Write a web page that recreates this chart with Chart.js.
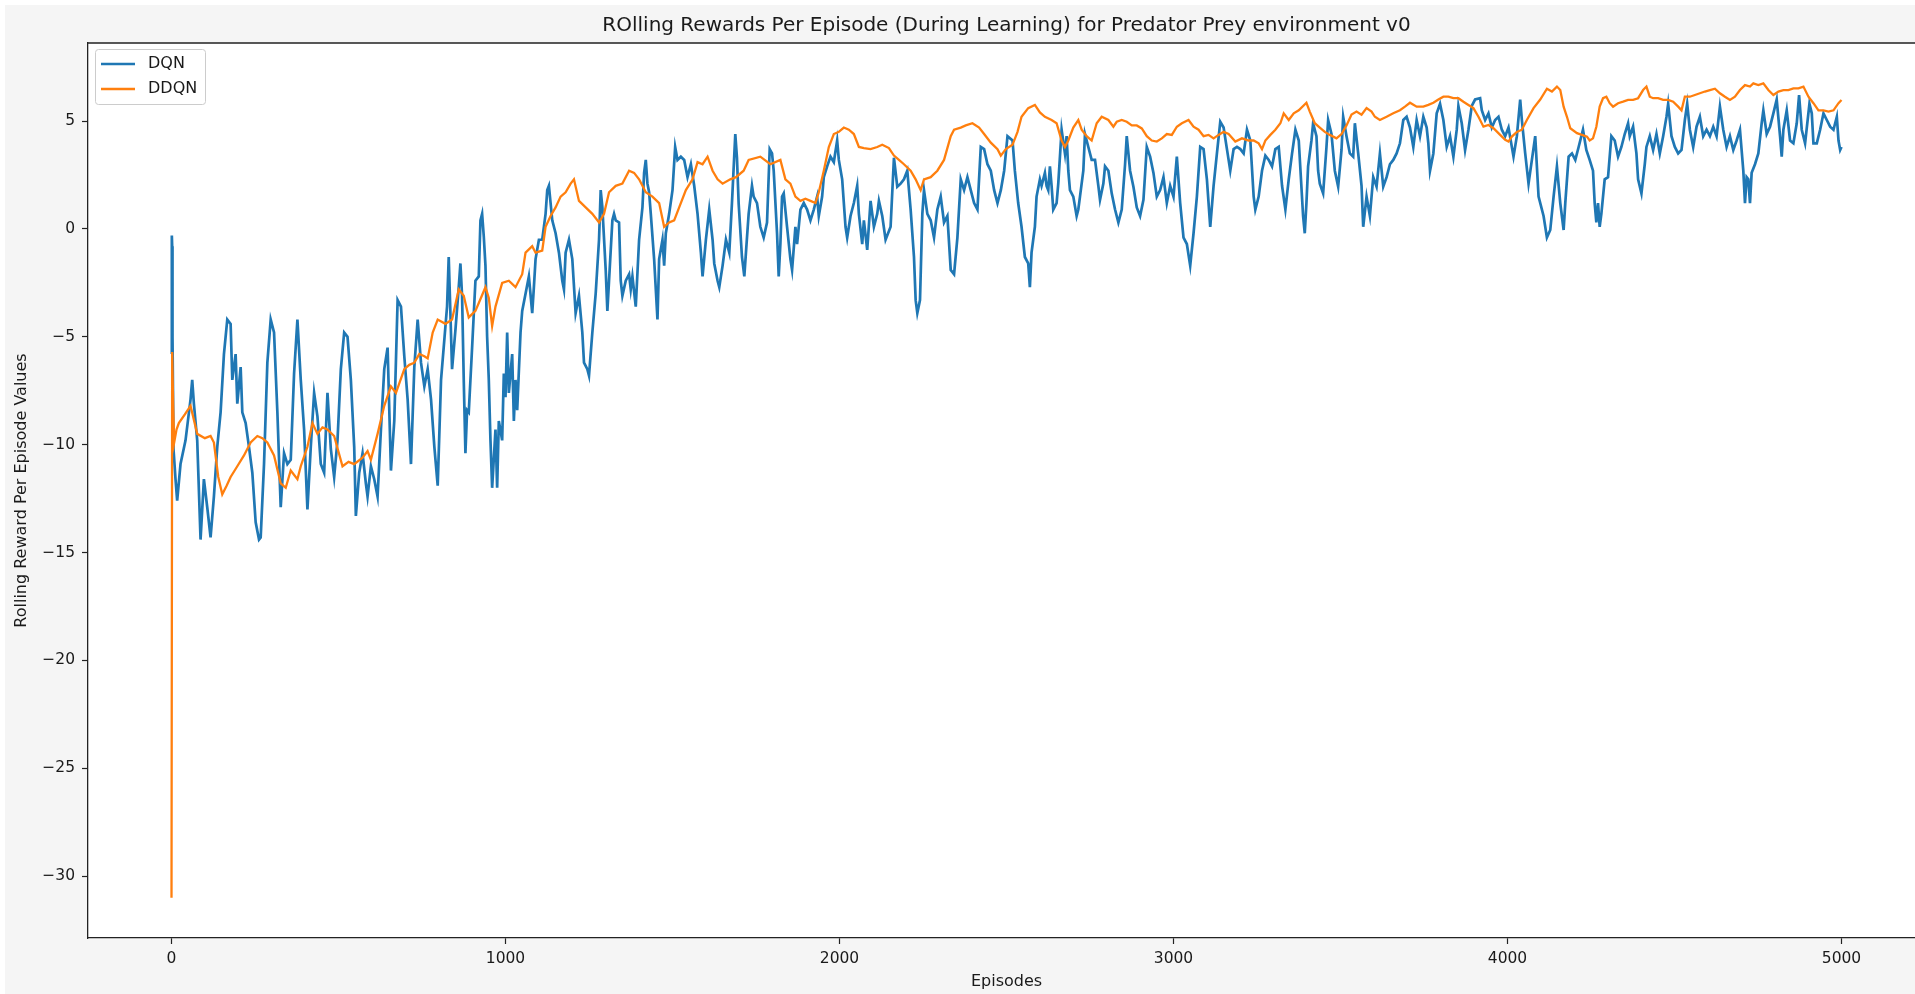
<!DOCTYPE html>
<html>
<head>
<meta charset="utf-8">
<title>Rolling Rewards Per Episode</title>
<script src="https://cdn.jsdelivr.net/npm/chart.js@4.4.1/dist/chart.umd.min.js"></script>
<style>
  html, body { margin: 0; padding: 0; overflow: hidden; background: #ffffff; }
  #wrap { position: absolute; left: 0; top: 0; width: 1940px; height: 994px; }
</style>
</head>
<body>
<div id="wrap"><canvas id="chart" width="1940" height="994"></canvas></div>
<script>
// Rolling reward per episode, DQN agent
const dqnEpisodes = [
  0, 1, 2, 3, 6, 12, 17, 27, 42, 57, 62, 67, 77, 87, 97, 107, 117, 127, 137, 147,
  157, 167, 177, 182, 192, 197, 207, 212, 222, 232, 242, 252, 262, 267, 277, 287, 297, 307, 317, 327,
  337, 347, 357, 367, 377, 387, 397, 407, 417, 427, 437, 447, 457, 467, 477, 487, 497, 507, 517, 527,
  537, 547, 552, 562, 572, 582, 587, 597, 607, 617, 627, 637, 647, 657, 667, 677, 687, 697, 707, 717,
  727, 737, 747, 757, 767, 777, 787, 797, 807, 825, 830, 835, 840, 850, 860, 865, 870, 875, 880, 885,
  890, 895, 900, 910, 920, 925, 930, 935, 940, 945, 950, 955, 960, 970, 975, 980, 990, 995, 1000, 1005,
  1010, 1020, 1025, 1030, 1035, 1045, 1050, 1060, 1070, 1080, 1085, 1090, 1100, 1110, 1120, 1125, 1130, 1140, 1150, 1160,
  1170, 1175, 1180, 1190, 1200, 1210, 1220, 1230, 1235, 1245, 1250, 1260, 1270, 1280, 1285, 1290, 1300, 1305, 1310, 1320,
  1325, 1330, 1340, 1345, 1350, 1360, 1370, 1375, 1380, 1390, 1400, 1410, 1415, 1420, 1425, 1430, 1435, 1445, 1455, 1460,
  1470, 1475, 1480, 1490, 1500, 1508, 1515, 1525, 1535, 1545, 1555, 1565, 1575, 1585, 1590, 1600, 1610, 1620, 1625, 1635,
  1640, 1650, 1660, 1670, 1678, 1688, 1693, 1698, 1708, 1715, 1723, 1728, 1738, 1743, 1753, 1763, 1773, 1783, 1791, 1798,
  1803, 1813, 1818, 1823, 1828, 1833, 1843, 1853, 1858, 1868, 1873, 1883, 1893, 1903, 1913, 1923, 1933, 1938, 1948, 1953,
  1963, 1973, 1983, 1993, 1998, 2008, 2018, 2023, 2033, 2043, 2053, 2058, 2068, 2073, 2083, 2093, 2103, 2113, 2118, 2128,
  2138, 2153, 2163, 2173, 2183, 2193, 2203, 2213, 2223, 2228, 2233, 2241, 2248, 2253, 2263, 2273, 2283, 2293, 2303, 2313,
  2323, 2333, 2343, 2353, 2363, 2373, 2383, 2393, 2403, 2413, 2423, 2433, 2443, 2453, 2463, 2473, 2483, 2493, 2503, 2518,
  2525, 2535, 2545, 2555, 2565, 2570, 2575, 2585, 2590, 2600, 2605, 2615, 2620, 2625, 2630, 2635, 2640, 2650, 2655, 2665,
  2675, 2680, 2685, 2690, 2700, 2710, 2715, 2720, 2730, 2735, 2745, 2755, 2765, 2775, 2780, 2790, 2795, 2805, 2815, 2825,
  2835, 2845, 2855, 2860, 2870, 2880, 2890, 2900, 2910, 2920, 2930, 2940, 2950, 2960, 2970, 2980, 2990, 3000, 3010, 3020,
  3030, 3040, 3050, 3060, 3070, 3080, 3090, 3100, 3110, 3120, 3130, 3140, 3150, 3160, 3170, 3180, 3190, 3200, 3210, 3220,
  3230, 3240, 3245, 3255, 3265, 3275, 3285, 3295, 3305, 3315, 3325, 3335, 3345, 3355, 3365, 3375, 3388, 3393, 3398, 3403,
  3413, 3418, 3428, 3433, 3438, 3448, 3458, 3463, 3473, 3483, 3493, 3503, 3508, 3518, 3528, 3538, 3543, 3553, 3563, 3568,
  3578, 3588, 3598, 3608, 3618, 3628, 3638, 3648, 3658, 3668, 3678, 3688, 3698, 3708, 3718, 3728, 3738, 3748, 3758, 3763,
  3768, 3778, 3788, 3798, 3808, 3818, 3828, 3838, 3848, 3853, 3863, 3873, 3883, 3893, 3903, 3918, 3923, 3933, 3943, 3953,
  3963, 3973, 3983, 3993, 4003, 4018, 4028, 4038, 4043, 4053, 4063, 4073, 4083, 4093, 4108, 4118, 4128, 4138, 4148, 4158,
  4168, 4173, 4183, 4193, 4203, 4213, 4226, 4236, 4246, 4256, 4261, 4266, 4271, 4276, 4281, 4291, 4301, 4311, 4321, 4331,
  4341, 4351, 4361, 4366, 4376, 4386, 4391, 4401, 4411, 4416, 4426, 4436, 4446, 4456, 4466, 4476, 4481, 4491, 4501, 4511,
  4521, 4531, 4538, 4546, 4556, 4566, 4576, 4586, 4596, 4606, 4616, 4626, 4636, 4646, 4656, 4666, 4676, 4686, 4696, 4706,
  4711, 4716, 4721, 4726, 4731, 4741, 4751, 4761, 4766, 4776, 4786, 4796, 4806, 4816, 4821, 4826, 4836, 4846, 4856, 4866,
  4873, 4881, 4891, 4904, 4911, 4916, 4926, 4936, 4946, 4956, 4966, 4976, 4986, 4991, 4996, 5000
];
const dqnRewards = [
  -5.8, -0.3, -0.8, -5.0, -10.2, -11.6, -12.6, -10.9, -9.8, -7.9, -7.0, -8.1, -9.8, -14.4, -11.6, -12.9, -14.3, -12.4, -10.1, -8.5,
  -5.8, -4.2, -4.4, -7.0, -5.8, -8.1, -6.4, -8.5, -9.0, -10.1, -11.3, -13.6, -14.4, -14.3, -10.9, -6.2, -4.2, -4.8, -8.5, -12.9,
  -10.4, -10.9, -10.7, -6.7, -4.2, -7.0, -9.3, -13.0, -10.1, -7.6, -8.7, -10.9, -11.3, -7.6, -10.2, -11.5, -9.8, -6.5, -4.8, -5.0,
  -7.0, -10.1, -13.3, -11.3, -10.4, -11.8, -12.4, -11.0, -11.6, -12.4, -9.3, -6.5, -5.5, -11.2, -8.9, -3.3, -3.6, -5.9, -7.9, -10.9,
  -6.4, -4.2, -6.2, -7.3, -6.5, -7.9, -10.1, -11.9, -7.0, -3.6, -1.3, -3.9, -6.5, -4.7, -2.7, -1.6, -3.1, -7.0, -10.4, -8.4,
  -8.5, -7.0, -5.5, -2.4, -2.2, 0.4, 0.7, -0.35, -1.7, -5.0, -7.0, -9.8, -12.0, -9.3, -12.0, -8.9, -9.8, -6.7, -7.8, -4.8,
  -7.6, -5.8, -8.9, -7.0, -8.4, -4.8, -3.8, -3.0, -2.2, -3.9, -2.7, -1.4, -0.5, -0.5, 0.7, 1.8, 2.0, 0.4, -0.2, -1.1,
  -2.4, -2.8, -1.1, -0.5, -1.4, -3.9, -3.1, -4.8, -6.2, -6.5, -6.8, -4.8, -3.0, -0.5, 1.8, 1.0, -1.9, -3.8, -2.4, 0.4,
  0.7, 0.4, 0.3, -2.4, -3.1, -2.4, -2.1, -2.8, -2.2, -3.6, -0.5, 1.0, 2.6, 3.2, 2.1, 1.7, 0.7, -1.4, -4.2, -1.4,
  -0.5, -1.7, -0.2, 0.7, 1.8, 3.8, 3.2, 3.35, 3.2, 2.4, 3.0, 2.0, 0.7, -1.1, -2.2, -0.5, 0.9, -0.5, -1.6, -2.4,
  -2.7, -1.7, -0.5, -1.1, 1.2, 4.4, 3.3, 1.2, -1.3, -2.2, -0.4, 0.7, 2.0, 1.5, 1.2, 0.1, -0.4, 0.3, 3.7, 3.5,
  2.7, -0.2, -2.2, -0.7, 1.5, 1.65, 0.1, -1.4, -1.9, 0.1, -0.7, 0.9, 1.2, 0.9, 0.4, 0.9, 1.5, 0.6, 1.5, 2.4,
  2.9, 3.35, 3.1, 4.1, 3.2, 2.3, 0.1, -0.4, 0.6, 1.2, 2.0, 0.7, -0.7, 0.4, -0.97, 1.3, 0.1, 0.7, 1.3, 0.6,
  -0.5, 0.1, 3.3, 1.96, 2.1, 2.3, 2.7, 0.9, -1.3, -3.3, -3.9, -3.3, 0.7, 1.8, 0.7, 0.4, -0.4, 0.9, 1.5, 0.3,
  0.6, -1.9, -2.1, -0.4, 2.3, 1.8, 2.4, 1.8, 1.2, 0.9, 3.8, 3.7, 3.0, 2.7, 1.8, 1.2, 1.8, 2.7, 4.3, 4.1,
  2.7, 1.2, 0.1, -1.3, -1.6, -2.7, -1.1, 0.1, 1.5, 2.3, 2.0, 2.6, 2.0, 1.8, 2.9, 2.0, 0.9, 1.2, 2.1, 4.6,
  3.5, 4.3, 2.7, 1.8, 1.5, 0.6, 0.9, 1.5, 2.7, 4.4, 3.8, 3.2, 3.2, 2.0, 1.35, 2.1, 2.9, 2.7, 1.65, 0.9,
  0.3, 0.9, 3.0, 4.3, 2.7, 1.96, 1.0, 0.6, 1.35, 3.8, 3.35, 2.6, 1.5, 1.8, 2.4, 1.2, 2.0, 1.5, 3.35, 1.2,
  -0.4, -0.7, -1.7, -0.2, 1.5, 3.8, 3.7, 2.3, 0.1, 2.0, 3.5, 4.97, 4.7, 3.7, 2.7, 3.7, 3.8, 3.7, 3.5, 4.6,
  4.1, 1.5, 0.9, 1.5, 2.7, 3.4, 3.2, 2.9, 3.7, 3.8, 2.0, 0.9, 2.3, 3.5, 4.6, 4.1, 0.6, -0.2, 1.2, 2.9,
  4.1, 4.9, 4.3, 2.7, 2.1, 1.65, 3.8, 5.05, 4.4, 2.7, 1.96, 3.66, 5.2, 4.3, 3.5, 3.35, 4.9, 3.5, 2.0, 0.1,
  1.5, 0.6, 2.4, 1.96, 3.5, 1.96, 2.4, 3.0, 3.2, 3.5, 3.97, 5.05, 5.2, 4.7, 3.8, 5.05, 4.3, 5.2, 4.7, 3.97,
  2.7, 3.5, 5.36, 5.8, 5.05, 3.8, 4.3, 3.35, 4.6, 5.7, 4.9, 3.66, 4.6, 5.7, 6.0, 6.06, 5.5, 5.05, 5.36, 4.7,
  5.05, 5.2, 4.6, 4.3, 4.7, 3.35, 4.3, 6.0, 5.05, 3.5, 2.1, 3.2, 4.3, 1.5, 0.6, -0.4, -0.05, 1.5, 2.9, 1.2,
  -0.05, 1.2, 3.35, 3.5, 3.2, 3.8, 4.6, 3.66, 3.2, 2.7, 1.2, 0.3, 1.2, 0.1, 0.7, 2.3, 2.4, 4.3, 4.1, 3.35,
  3.8, 4.4, 4.9, 4.3, 4.74, 3.5, 2.3, 1.65, 3.0, 3.8, 4.3, 3.66, 4.4, 3.5, 4.3, 5.2, 5.8, 4.3, 3.8, 3.5,
  3.66, 5.05, 5.8, 4.6, 3.8, 4.74, 5.2, 4.3, 4.6, 4.3, 4.74, 4.3, 5.67, 4.6, 3.8, 4.3, 3.66, 4.1, 4.6, 2.7,
  1.2, 2.4, 2.3, 1.2, 2.6, 3.0, 3.5, 4.9, 5.5, 4.4, 4.74, 5.36, 6.0, 4.3, 3.35, 4.6, 5.5, 4.1, 3.97, 4.9,
  6.2, 4.6, 3.97, 5.8, 5.36, 3.97, 3.97, 4.6, 5.36, 5.05, 4.74, 4.6, 5.2, 4.1, 3.66, 3.8
];

// Rolling reward per episode, DDQN agent
const ddqnEpisodes = [
  0, 2, 5, 8, 15, 22, 40, 57, 77, 100, 117, 127, 140, 152, 165, 177, 197, 217, 237, 257,
  272, 287, 307, 327, 342, 357, 377, 387, 407, 422, 437, 452, 467, 487, 512, 530, 547, 572, 587, 597,
  617, 637, 657, 672, 697, 712, 727, 742, 757, 767, 782, 797, 820, 840, 860, 875, 890, 910, 940, 950,
  960, 970, 990, 1010, 1030, 1050, 1060, 1080, 1090, 1110, 1120, 1135, 1150, 1165, 1180, 1195, 1205, 1220, 1240, 1260,
  1280, 1295, 1310, 1330, 1350, 1370, 1385, 1400, 1420, 1440, 1460, 1475, 1490, 1505, 1520, 1540, 1560, 1575, 1590, 1605,
  1620, 1635, 1650, 1673, 1690, 1713, 1728, 1763, 1793, 1823, 1838, 1853, 1868, 1883, 1898, 1913, 1928, 1938, 1953, 1968,
  1983, 1998, 2013, 2028, 2043, 2058, 2073, 2093, 2113, 2128, 2148, 2163, 2178, 2193, 2213, 2228, 2243, 2253, 2273, 2293,
  2313, 2333, 2343, 2363, 2378, 2398, 2418, 2433, 2453, 2473, 2483, 2498, 2518, 2533, 2545, 2565, 2585, 2600, 2615, 2635,
  2650, 2665, 2675, 2685, 2700, 2715, 2725, 2740, 2755, 2770, 2785, 2805, 2820, 2830, 2845, 2860, 2875, 2890, 2905, 2920,
  2935, 2950, 2965, 2980, 2995, 3010, 3025, 3045, 3060, 3075, 3090, 3105, 3120, 3135, 3150, 3165, 3185, 3205, 3225, 3240,
  3255, 3265, 3275, 3290, 3305, 3320, 3330, 3345, 3360, 3375, 3398, 3408, 3423, 3438, 3453, 3468, 3488, 3503, 3518, 3533,
  3548, 3563, 3578, 3593, 3603, 3618, 3638, 3658, 3678, 3693, 3708, 3728, 3748, 3763, 3778, 3793, 3808, 3823, 3838, 3853,
  3868, 3883, 3898, 3913, 3928, 3943, 3958, 3978, 3993, 4003, 4013, 4028, 4043, 4058, 4078, 4098, 4118, 4133, 4148, 4158,
  4168, 4178, 4188, 4208, 4223, 4238, 4246, 4256, 4266, 4276, 4286, 4296, 4306, 4316, 4331, 4346, 4361, 4376, 4391, 4406,
  4416, 4426, 4436, 4451, 4466, 4481, 4496, 4511, 4521, 4531, 4546, 4561, 4576, 4591, 4606, 4621, 4636, 4651, 4666, 4681,
  4696, 4711, 4726, 4736, 4751, 4766, 4781, 4796, 4811, 4826, 4841, 4856, 4871, 4886, 4901, 4916, 4931, 4946, 4961, 4976,
  4991, 5000
];
const ddqnRewards = [
  -31.0, -5.7, -8.2, -9.9, -9.3, -9.0, -8.6, -8.2, -9.5, -9.7, -9.6, -9.9, -11.5, -12.3, -11.9, -11.5, -11.0, -10.5, -9.9, -9.6,
  -9.7, -9.9, -10.5, -11.8, -12.0, -11.2, -11.6, -11.0, -10.1, -9.0, -9.5, -9.2, -9.3, -9.6, -11.0, -10.8, -10.9, -10.6, -10.3, -10.7,
  -9.5, -8.2, -7.3, -7.6, -6.5, -6.3, -6.2, -5.8, -5.9, -6.0, -4.8, -4.2, -4.4, -4.2, -2.8, -3.1, -4.1, -3.8, -2.7, -3.2,
  -4.5, -3.6, -2.5, -2.4, -2.7, -2.1, -1.1, -0.8, -1.1, -1.0, 0.1, 0.6, 1.0, 1.5, 1.7, 2.1, 2.3, 1.3, 1.0, 0.7,
  0.3, 0.7, 1.7, 2.0, 2.1, 2.7, 2.6, 2.3, 1.7, 1.5, 1.2, 0.1, 0.3, 0.4, 1.0, 1.8, 2.3, 3.1, 3.0, 3.35,
  2.7, 2.3, 2.1, 2.3, 2.4, 2.7, 3.2, 3.35, 3.0, 3.2, 2.3, 2.1, 1.5, 1.3, 1.4, 1.3, 1.2, 1.7, 2.7, 3.8,
  4.4, 4.5, 4.7, 4.6, 4.4, 3.8, 3.75, 3.7, 3.8, 3.9, 3.75, 3.4, 3.2, 3.0, 2.7, 2.3, 1.8, 2.3, 2.4, 2.7,
  3.2, 4.3, 4.6, 4.7, 4.8, 4.9, 4.7, 4.4, 4.0, 3.7, 3.4, 3.7, 3.9, 4.5, 5.2, 5.6, 5.75, 5.4, 5.2, 5.05,
  4.9, 4.1, 3.8, 4.1, 4.7, 5.05, 4.6, 4.3, 4.1, 4.9, 5.2, 5.05, 4.74, 4.97, 5.05, 4.97, 4.8, 4.8, 4.66, 4.3,
  4.1, 4.05, 4.2, 4.4, 4.36, 4.74, 4.9, 5.05, 4.74, 4.6, 4.3, 4.36, 4.2, 4.36, 4.5, 4.4, 4.05, 4.2, 4.1, 4.1,
  3.97, 3.7, 4.1, 4.36, 4.6, 4.9, 5.36, 5.05, 5.36, 5.5, 5.85, 5.44, 4.9, 4.7, 4.5, 4.36, 4.2, 4.4, 4.8, 5.3,
  5.44, 5.3, 5.6, 5.44, 5.2, 5.05, 5.2, 5.36, 5.5, 5.67, 5.85, 5.67, 5.67, 5.75, 5.85, 6.0, 6.13, 6.13, 6.06, 6.06,
  5.9, 5.75, 5.6, 5.2, 4.74, 4.82, 4.67, 4.36, 4.13, 4.05, 4.28, 4.5, 4.6, 5.05, 5.6, 6.0, 6.5, 6.37, 6.6, 6.44,
  5.67, 5.2, 4.67, 4.44, 4.36, 4.28, 4.1, 4.2, 4.74, 5.67, 6.06, 6.13, 5.83, 5.67, 5.83, 5.9, 5.98, 5.98, 6.06, 6.44,
  6.6, 6.13, 6.06, 6.06, 5.98, 5.98, 5.9, 5.67, 5.5, 6.13, 6.13, 6.21, 6.29, 6.37, 6.44, 6.5, 6.29, 6.13, 5.98, 6.13,
  6.44, 6.67, 6.6, 6.75, 6.67, 6.75, 6.44, 6.21, 6.37, 6.44, 6.44, 6.52, 6.52, 6.6, 6.13, 5.83, 5.5, 5.5, 5.44, 5.5,
  5.83, 5.98
];

// Axis ticks
const xTicks = [0, 1000, 2000, 3000, 4000, 5000];
const yTicks = [-30, -25, -20, -15, -10, -5, 0, 5];

const FONT = "'DejaVu Sans', sans-serif";
const INK = '#1a1a1a';

const toPoints = (xs, ys) => xs.map((x, i) => ({ x: x, y: ys[i] }));
const fmt = v => String(v).replace('-', '\u2212');

// Figure background, top spine and the boxed legend
const figure = {
  id: 'figure',
  beforeDraw(chart) {
    const { ctx, chartArea: a, width, height } = chart;
    ctx.save();
    ctx.fillStyle = '#ffffff';
    ctx.fillRect(0, 0, width, height);
    ctx.fillStyle = '#f5f5f5';
    ctx.fillRect(5, 5, width - 5, height - 5);
    ctx.fillStyle = '#ffffff';
    ctx.fillRect(a.left, a.top, a.right - a.left, a.bottom - a.top);
    ctx.restore();
  },
  afterDraw(chart) {
    const { ctx, chartArea: a } = chart;
    ctx.save();
    ctx.strokeStyle = '#222222';
    ctx.lineWidth = 1.3;
    ctx.beginPath();
    ctx.moveTo(a.left, a.top);
    ctx.lineTo(a.right, a.top);
    ctx.lineTo(a.right, a.bottom);
    ctx.stroke();

    // legend box
    const bx = 95.5, by = 49.5, bw = 110, bh = 55, r = 3;
    ctx.beginPath();
    ctx.moveTo(bx + r, by);
    ctx.arcTo(bx + bw, by, bx + bw, by + bh, r);
    ctx.arcTo(bx + bw, by + bh, bx, by + bh, r);
    ctx.arcTo(bx, by + bh, bx, by, r);
    ctx.arcTo(bx, by, bx + bw, by, r);
    ctx.closePath();
    ctx.fillStyle = 'rgba(255,255,255,0.8)';
    ctx.fill();
    ctx.strokeStyle = '#cccccc';
    ctx.lineWidth = 1;
    ctx.stroke();

    ctx.font = '16px ' + FONT;
    ctx.textBaseline = 'middle';
    ctx.textAlign = 'left';
    chart.data.datasets.forEach((ds, i) => {
      const y = 64 + i * 25;
      ctx.strokeStyle = ds.borderColor;
      ctx.lineWidth = 2.4;
      ctx.beginPath();
      ctx.moveTo(101, y);
      ctx.lineTo(135, y);
      ctx.stroke();
      ctx.fillStyle = INK;
      ctx.fillText(ds.label, 148, y);
    });
    ctx.restore();
  }
};

new Chart(document.getElementById('chart'), {
  type: 'line',
  data: {
    datasets: [
      {
        label: 'DQN',
        data: toPoints(dqnEpisodes, dqnRewards),
        borderColor: '#1f77b4',
        borderWidth: 2.7,
        pointRadius: 0,
        tension: 0,
        order: 1
      },
      {
        label: 'DDQN',
        data: toPoints(ddqnEpisodes, ddqnRewards),
        borderColor: '#ff7f0e',
        borderWidth: 2.3,
        pointRadius: 0,
        tension: 0,
        order: 0
      }
    ]
  },
  options: {
    responsive: false,
    animation: false,
    devicePixelRatio: 1,
    layout: { padding: { left: 0, right: 15, top: 0, bottom: 0 } },
    plugins: {
      legend: { display: false },
      tooltip: { enabled: false },
      title: {
        display: true,
        fullSize: false,
        text: 'ROlling Rewards Per Episode (During Learning) for Predator Prey environment v0',
        color: INK,
        font: { family: FONT, size: 20, weight: 'normal', lineHeight: 1.2 },
        padding: { top: 14, bottom: 5 }
      }
    },
    scales: {
      x: {
        type: 'linear',
        min: -250,
        max: 5250,
        afterBuildTicks: s => { s.ticks = xTicks.map(v => ({ value: v })); },
        afterFit: s => { s.height = 56; },
        ticks: {
          color: INK,
          font: { family: FONT, size: 15.5 },
          padding: 6,
          maxRotation: 0,
          autoSkip: false,
          callback: v => fmt(v)
        },
        grid: { drawOnChartArea: false, drawTicks: true, tickLength: 6, tickColor: '#222222', tickWidth: 1.2 },
        border: { display: true, color: '#222222', width: 1.3 },
        title: {
          display: true,
          text: 'Episodes',
          color: INK,
          font: { family: FONT, size: 16, lineHeight: 1.2 },
          padding: { top: 0, bottom: 3 }
        }
      },
      y: {
        type: 'linear',
        min: -32.87,
        max: 8.62,
        afterBuildTicks: s => { s.ticks = yTicks.map(v => ({ value: v })); },
        afterFit: s => { s.width = 88; },
        ticks: {
          color: INK,
          font: { family: FONT, size: 15.5 },
          padding: 7,
          autoSkip: false,
          callback: v => fmt(v)
        },
        grid: { drawOnChartArea: false, drawTicks: true, tickLength: 6, tickColor: '#222222', tickWidth: 1.2 },
        border: { display: true, color: '#222222', width: 1.3 },
        title: {
          display: true,
          text: 'Rolling Reward Per Episode Values',
          color: INK,
          font: { family: FONT, size: 16, lineHeight: 1.2 },
          padding: { top: 12, bottom: 0 }
        }
      }
    }
  },
  plugins: [figure]
});
</script>
</body>
</html>
